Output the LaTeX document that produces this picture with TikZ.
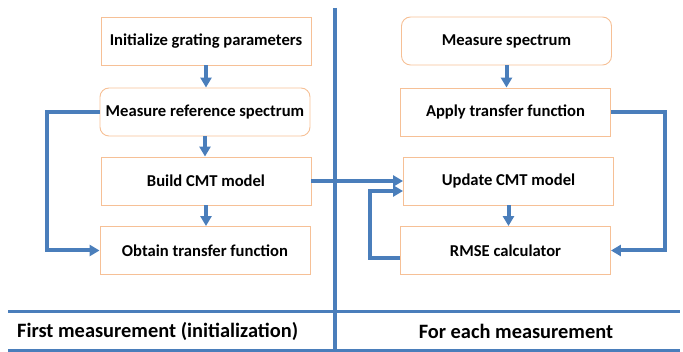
\documentclass[tikz,border=0pt]{standalone}
\usepackage{fontspec}
\setmainfont{Carlito}
\usetikzlibrary{arrows.meta}
\definecolor{lineblue}{HTML}{4A7EBB}
\definecolor{boxorange}{HTML}{F6C096}
\begin{document}
\begin{tikzpicture}[x=1pt,y=-1pt,
  box/.style={draw=boxorange, line width=0.9pt, minimum width=210pt, minimum height=48pt, font=\bfseries\fontsize{16.6}{19}\selectfont, inner sep=0pt},
  rbox/.style={box, rounded corners=9pt},
  conn/.style={draw=lineblue, line width=4pt, -{Triangle[width=11pt,length=10pt]}},
  rule/.style={draw=lineblue, line width=3pt},
  divider/.style={draw=lineblue, line width=4pt},
  caption/.style={font=\bfseries\fontsize{20.4}{24}\selectfont, inner sep=0pt}]
\useasboundingbox (0,0) rectangle (683,352);
\node[box]  (init)   at (206,41)    {Initialize grating parameters};
\node[rbox] (mref)   at (205,112)   {Measure reference spectrum};
\node[box]  (build)  at (206,181)   {Build CMT model};
\node[box]  (obtain) at (205,250.5) {Obtain transfer function};
\node[rbox] (mspec)  at (506.5,41)  {Measure spectrum};
\node[box]  (apply)  at (505.5,112) {Apply transfer function};
\node[box]  (update) at (508.5,181) {Update CMT model};
\node[box]  (rmse)   at (505.5,250.5) {RMSE calculator};
\draw[divider] (335,8) -- (335,352);
\draw[rule] (8,312) -- (680,312);
\draw[rule] (8,350.5) -- (680,350.5);
\node[caption, anchor=west] (cap1) at (17,331) {First measurement (initialization)};
\node[caption] (cap2) at (516,331) {For each measurement};
\draw[conn] (init.south) -- (init.south |- mref.north);
\draw[conn] (mref.south) -- (mref.south |- build.north);
\draw[conn] (build.south) -- (build.south |- obtain.north);
\draw[conn] (mspec.south) -- (mspec.south |- apply.north);
\draw[conn] (update.south) -- (update.south |- rmse.north);
\draw[conn] (mref.west) -- ++(-53,0) |- (obtain.west);
\draw[conn] (build.east) -- (build.east -| update.west);
\draw[conn] ([yshift=-8pt]rmse.west) -- ++(-30,0) |- ([yshift=-10pt]update.west);
\draw[conn] (apply.east) -- ++(54,0) |- (rmse.east);
\end{tikzpicture}
\end{document}
